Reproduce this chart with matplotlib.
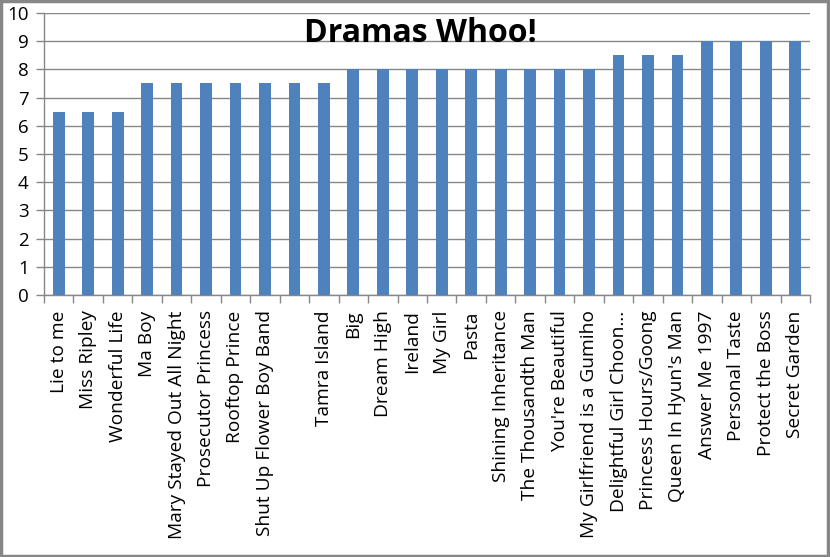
import matplotlib
matplotlib.use("Agg")
import matplotlib.pyplot as plt
from matplotlib.patches import Rectangle

dramas = ["Lie to me", "Miss Ripley", "Wonderful Life", "Ma Boy",
          "Mary Stayed Out All Night", "Prosecutor Princess", "Rooftop Prince",
          "Shut Up Flower Boy Band", "", "Tamra Island", "Big", "Dream High",
          "Ireland", "My Girl", "Pasta", "Shining Inheritance",
          "The Thousandth Man", "You're Beautiful", "My Girlfriend is a Gumiho",
          "Delightful Girl Choon…", "Princess Hours/Goong", "Queen In Hyun's Man",
          "Answer Me 1997", "Personal Taste", "Protect the Boss", "Secret Garden"]
ratings = [6.5, 6.5, 6.5, 7.5, 7.5, 7.5, 7.5, 7.5, 7.5, 7.5, 8, 8, 8, 8, 8, 8,
           8, 8, 8, 8.5, 8.5, 8.5, 9, 9, 9, 9]
yticks = list(range(0, 11))
title = "Dramas Whoo!"

plt.rcParams['font.family'] = ['Open Sans', 'DejaVu Sans']

fig = plt.figure(figsize=(8.3, 5.57), dpi=100)
ax = fig.add_axes([44/830, 1-295/557, (810-44)/830, (295-13)/557])

x = list(range(len(dramas)))
ax.bar(x, ratings, width=0.4, color='#4F81BD', zorder=3)
ax.set_xlim(-0.5, len(dramas) - 0.5)
ax.set_ylim(0, 10)
ax.set_yticks(yticks)
ax.set_yticklabels([str(t) for t in yticks], fontsize=13.5)
ax.yaxis.grid(True, color='#878787', linewidth=1.0, zorder=0)
ax.set_axisbelow(True)

ax.set_xticks(x)
ax.set_xticklabels(dramas, rotation=90, fontsize=13.8, va='top', ha='center')
ax.tick_params(axis='x', length=0, pad=11)
ax.set_xticks([i - 0.5 for i in range(len(dramas) + 1)], minor=True)
ax.tick_params(axis='x', which='minor', length=6, color='#878787', width=1)
ax.tick_params(axis='y', length=6, color='#878787', width=1, pad=5)

for s in ['top', 'right']:
    ax.spines[s].set_visible(False)
for s in ['left', 'bottom']:
    ax.spines[s].set_color('#878787')
    ax.spines[s].set_linewidth(1.0)

ax.text(420/830, 1 - 34/557, title, transform=fig.transFigure, ha='center',
        va='center', fontsize=23, fontweight='bold', zorder=5)

fig.patches.append(Rectangle((0.001, 0.002), 0.997, 0.996, transform=fig.transFigure,
                             fill=False, edgecolor='#878787', linewidth=2.5))

fig.savefig("out.png", dpi=100)
